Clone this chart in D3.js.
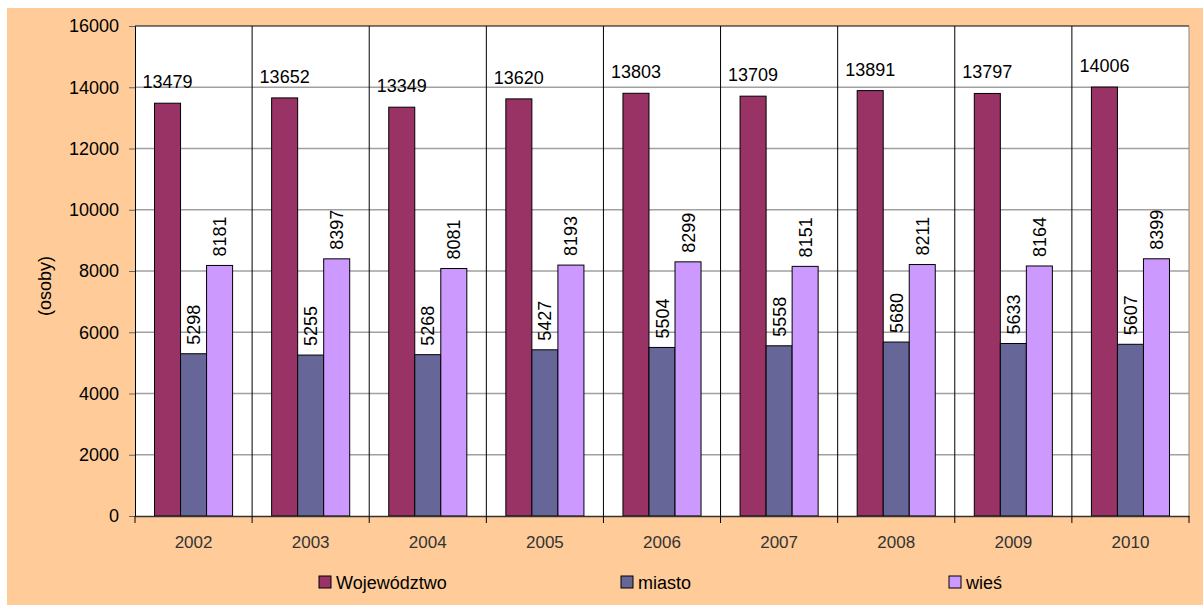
<!DOCTYPE html>
<html>
<head>
<meta charset="utf-8">
<script src="https://cdn.jsdelivr.net/npm/d3@7"></script>
<style>
  body { margin: 0; background: #fff; }
  text { font-family: Arial, "Liberation Sans", sans-serif; }
</style>
</head>
<body>
<script>
var years = ["2002", "2003", "2004", "2005", "2006", "2007", "2008", "2009", "2010"];
var seriesNames = ["Województwo", "miasto", "wieś"];
var wojewodztwo = [13479, 13652, 13349, 13620, 13803, 13709, 13891, 13797, 14006];
var miasto = [5298, 5255, 5268, 5427, 5504, 5558, 5680, 5633, 5607];
var wies = [8181, 8397, 8081, 8193, 8299, 8151, 8211, 8164, 8399];
var yTicks = [0, 2000, 4000, 6000, 8000, 10000, 12000, 14000, 16000];

var colors = ["#993366", "#666699", "#CC99FF"];
var seriesValues = [wojewodztwo, miasto, wies];

var w = 1203, h = 605;
var plotL = 135, plotR = 1189, plotT = 26, plotB = 516;   // plot area edges

var svg = d3.select("body").append("svg")
    .attr("width", w)
    .attr("height", h);

// orange chart background
svg.append("rect")
    .attr("x", 7).attr("y", 8)
    .attr("width", w - 7).attr("height", h - 8)
    .style("fill", "#FFCC99");

svg.append("rect")
    .attr("x", plotL).attr("y", plotT)
    .attr("width", plotR - plotL).attr("height", plotB - plotT)
    .style("fill", "#fff");

var x = d3.scaleBand()
    .domain(years)
    .range([plotL, plotR]);

var barW = x.bandwidth() / (3 + 1.5);   // gap width 150%

var y = d3.scaleLinear()
    .domain([0, 16000])
    .range([plotB, plotT]);

// horizontal gridlines
svg.selectAll(".hgrid")
    .data(yTicks.slice(1, -1))
    .enter().append("line")
    .attr("class", "hgrid")
    .attr("x1", plotL).attr("x2", plotR)
    .attr("y1", function(d){ return y(d); })
    .attr("y2", function(d){ return y(d); })
    .style("stroke", "#a0a0a0")
    .style("stroke-width", 1.3);

// vertical separators between categories
svg.selectAll(".vgrid")
    .data(years.slice(1))
    .enter().append("line")
    .attr("class", "vgrid")
    .attr("x1", function(d){ return x(d); })
    .attr("x2", function(d){ return x(d); })
    .attr("y1", plotT).attr("y2", plotB)
    .style("stroke", "#000")
    .style("stroke-width", 1);

// plot border top / right
svg.append("line")
    .attr("x1", plotL).attr("x2", plotR).attr("y1", plotT).attr("y2", plotT)
    .style("stroke", "#000");
svg.append("line")
    .attr("x1", plotR).attr("x2", plotR).attr("y1", plotT).attr("y2", plotB)
    .style("stroke", "#888");

// bars
var rows = [];
years.forEach(function(yr, i){
    seriesValues.forEach(function(vals, s){
        rows.push({year: yr, s: s, v: vals[i]});
    });
});

function barX(d){
    return x(d.year) + barW * 0.75 + d.s * barW;
}

svg.selectAll(".bar")
    .data(rows)
    .enter().append("rect")
    .attr("class", "bar")
    .attr("x", barX)
    .attr("y", function(d){ return y(d.v); })
    .attr("width", barW)
    .attr("height", function(d){ return plotB - y(d.v); })
    .style("fill", function(d){ return colors[d.s]; })
    .style("stroke", "#000")
    .style("stroke-width", 1);

// value labels
svg.selectAll(".lblH")
    .data(rows.filter(function(d){ return d.s === 0; }))
    .enter().append("text")
    .attr("class", "lblH")
    .attr("x", function(d){ return barX(d) + barW / 2; })
    .attr("y", function(d){ return y(d.v) - 15; })
    .attr("text-anchor", "middle")
    .style("font-size", "18px")
    .style("fill", "#000")
    .text(function(d){ return d.v; });

svg.selectAll(".lblV")
    .data(rows.filter(function(d){ return d.s > 0; }))
    .enter().append("text")
    .attr("class", "lblV")
    .attr("transform", function(d){
        return "translate(" + (barX(d) + barW / 2 + 6.5) + "," + (y(d.v) - 9) + ") rotate(-90)";
    })
    .attr("text-anchor", "start")
    .style("font-size", "18px")
    .style("fill", "#000")
    .text(function(d){ return d.v; });

// y axis
var yAxis = d3.axisLeft(y).tickValues(yTicks).tickFormat(d3.format("d")).tickSize(6).tickPadding(10);
var yg = svg.append("g")
    .attr("transform", "translate(" + plotL + ",0)")
    .call(yAxis);
yg.select(".domain").style("stroke", "#000");
yg.selectAll(".tick line").style("stroke", "#666");
yg.selectAll(".tick text")
    .style("font-size", "18px")
    .style("fill", "#000")
    .style("font-family", "Arial, 'Liberation Sans', sans-serif");

// x axis
var xAxis = d3.axisBottom(x).tickSize(0).tickPadding(20);
var xg = svg.append("g")
    .attr("transform", "translate(0," + plotB + ")")
    .call(xAxis);
xg.select(".domain").style("stroke", "#333").style("stroke-width", 1.5);
xg.selectAll(".tick text")
    .style("font-size", "17px")
    .style("fill", "#333")
    .style("font-family", "Arial, 'Liberation Sans', sans-serif");
xg.selectAll(".sep")
    .data(years.concat(["end"]))
    .enter().append("line")
    .attr("x1", function(d, i){ return plotL + i * x.step(); })
    .attr("x2", function(d, i){ return plotL + i * x.step(); })
    .attr("y1", 0).attr("y2", 7)
    .style("stroke", "#000");

// axis title
svg.append("text")
    .attr("transform", "translate(51,286) rotate(-90)")
    .attr("text-anchor", "middle")
    .style("font-size", "18px")
    .style("fill", "#000")
    .text("(osoby)");

// legend
var legendX = [319, 621, 949];
var legend = svg.selectAll(".legend")
    .data(seriesNames)
    .enter().append("g")
    .attr("class", "legend")
    .attr("transform", function(d, i){ return "translate(" + legendX[i] + ",576)"; });
legend.append("rect")
    .attr("width", 12).attr("height", 12)
    .style("fill", function(d, i){ return colors[i]; })
    .style("stroke", "#000");
legend.append("text")
    .attr("x", 17).attr("y", 13)
    .style("font-size", "18px")
    .style("fill", "#000")
    .text(function(d){ return d; });
</script>
</body>
</html>
